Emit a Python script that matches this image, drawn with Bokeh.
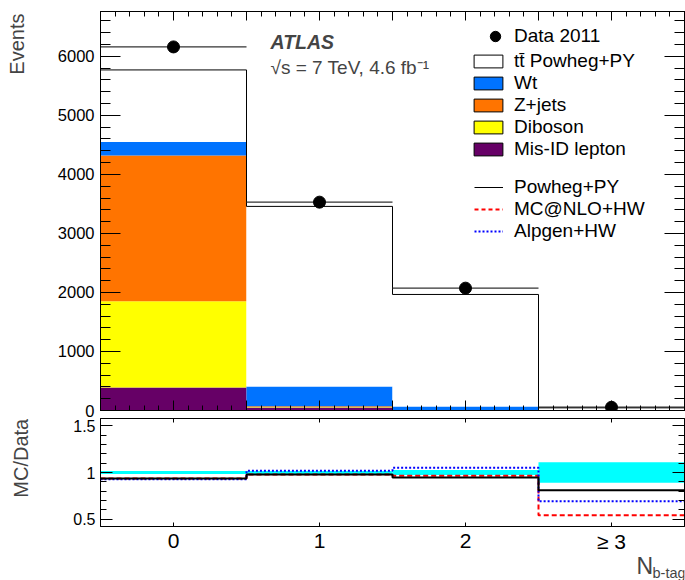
import numpy as np
from bokeh.plotting import figure
from bokeh.layouts import column, row
from bokeh.core.properties import value
from bokeh.models import (LinearAxis, SingleIntervalTicker, Label, Legend, LegendItem,
                          Range1d, CustomJSTickFormatter, CustomLabelingPolicy)
from bokeh.embed import file_html
from bokeh.resources import INLINE

# ---------------- data ----------------
bins = [0, 1, 2, 3]
bin_labels = ["0", "1", "2", "\u2265 3"]
data_2011 = [6160, 3530, 2073, 55]
ttbar_powheg = [1223, 3051, 1898, 42]
wt = [225, 334, 58, 2.5]
zjets = [2469, 15, 3, 0.3]
diboson = [1463, 8, 2, 0.1]
misid = [390, 50, 5, 0.1]
ratio_powheg = [0.935, 0.978, 0.946, 0.81]
ratio_mcatnlo = [0.935, 0.978, 0.964, 0.54]
ratio_alpgen = [0.928, 1.02, 1.05, 0.69]
data_unc = [0.017, 0.015, 0.026, 0.11]

FONT = "Liberation Sans"
C_WT = "#0073ff"
C_Z = "#ff7400"
C_DB = "#ffff00"
C_MIS = "#660066"
C_BAND = "#00ffff"

x = np.array(bins, dtype=float)
edges = np.append(x - 0.5, x[-1] + 0.5)

YMAX = 6760
RLO, RHI = 0.42, 1.58
LEFT = 50      # width of the left title strip
PW = 685 - LEFT


def make_axis(ticker, major_in, minor_in, labels=False, size="16px", standoff=5, formatter=None):
    ax = LinearAxis(ticker=ticker)
    ax.major_tick_in = int(major_in)
    ax.major_tick_out = 0
    ax.minor_tick_in = int(minor_in)
    ax.minor_tick_out = 0
    ax.axis_line_color = "black"
    ax.major_tick_line_color = "black"
    ax.minor_tick_line_color = "black" if minor_in else None
    ax.axis_label = None
    if labels:
        ax.major_label_text_font = FONT
        ax.major_label_text_font_size = size
        ax.major_label_text_color = "black"
        ax.major_label_standoff = standoff
        if formatter is not None:
            ax.formatter = formatter
    else:
        ax.major_label_text_font_size = "0px"
        ax.major_label_standoff = 0
        ax.major_label_policy = CustomLabelingPolicy(code="return []")
    return ax


def base_fig(width, height, xr, yr, **kw):
    f = figure(width=width, height=height, x_range=xr, y_range=yr, title=None,
               x_axis_type=None, y_axis_type=None, output_backend="svg", toolbar_location=None, **kw)
    f.background_fill_color = "white"
    f.border_fill_color = "white"
    return f


# ---------------- upper panel ----------------
p1 = base_fig(PW, 418, Range1d(-0.5, 3.5), Range1d(0, YMAX),
              min_border_left=50, min_border_right=1, min_border_top=11, min_border_bottom=8)
p1.outline_line_color = "black"

p1.add_layout(make_axis(SingleIntervalTicker(interval=1000, num_minor_ticks=5), 20, 10,
                        labels=True, size="16.5px", standoff=6), "left")
p1.add_layout(make_axis(SingleIntervalTicker(interval=1000, num_minor_ticks=5), 20, 10), "right")
p1.add_layout(make_axis(SingleIntervalTicker(interval=0.5, num_minor_ticks=5), 10, 5), "below")
p1.add_layout(make_axis(SingleIntervalTicker(interval=0.5, num_minor_ticks=5), 9, 5), "above")

stack = [(misid, C_MIS), (diboson, C_DB), (zjets, C_Z), (wt, C_WT), (ttbar_powheg, "white")]
bottom = np.zeros(len(bins))
for vals, col in stack:
    top = bottom + np.array(vals, dtype=float)
    p1.vbar(x=x, width=1.0, bottom=bottom, top=top, fill_color=col, line_color=None)
    bottom = top
total = bottom
p1.step(x=edges, y=np.append(total, total[-1]), mode="after", line_color="black", line_width=1)

p1.segment(x0=x - 0.5, x1=x + 0.5, y0=data_2011, y1=data_2011, line_color="#333333", line_width=1.3)
p1.scatter(x=x, y=data_2011, size=12, marker="circle", fill_color="black", line_color="black")

# legend-only renderers (a single NaN point, never drawn in the frame)
NA = [np.nan]
lg_data = p1.scatter(x=NA, y=NA, marker="circle", fill_color="black", line_color="black")
lg_boxes = []
for col in ["white", C_WT, C_Z, C_DB, C_MIS]:
    lg_boxes.append(p1.vbar(x=NA, top=NA, width=1, fill_color=col, line_color="black", line_width=1))
lg_pw = p1.line(x=NA, y=NA, line_color="black", line_width=1)
lg_mc = p1.line(x=NA, y=NA, line_color="red", line_width=2, line_dash="4 3")
lg_al = p1.line(x=NA, y=NA, line_color="blue", line_width=2, line_dash="2 2")


def style_legend(lg):
    lg.label_text_font = FONT
    lg.label_text_font_size = "19px"
    lg.label_text_color = "black"
    lg.padding = 0
    lg.margin = 0
    lg.spacing = 0
    lg.border_line_color = None
    lg.background_fill_alpha = 0
    lg.label_height = 20
    return lg


legA = style_legend(Legend(items=[LegendItem(label="Data 2011", renderers=[lg_data])],
                           location=(382, 361)))
legA.glyph_width = 26
legA.glyph_height = 26
legA.label_standoff = 6

box_names = ["tt\u0304 Powheg+PY", "Wt", "Z+jets", "Diboson", "Mis-ID lepton"]
legB = style_legend(Legend(items=[LegendItem(label=n, renderers=[r]) for n, r in zip(box_names, lg_boxes)],
                           location=(370, 250)))
legB.glyph_width = 36
legB.glyph_height = 16
legB.label_standoff = 8

legC = style_legend(Legend(items=[LegendItem(label="Powheg+PY", renderers=[lg_pw]),
                                  LegendItem(label="MC@NLO+HW", renderers=[lg_mc]),
                                  LegendItem(label="Alpgen+HW", renderers=[lg_al])],
                           location=(374, 168)))
legC.glyph_width = 29
legC.glyph_height = 16
legC.label_standoff = 11

for lg in (legA, legB, legC):
    p1.add_layout(lg)

p1.add_layout(Label(x=-0.5, y=YMAX, x_offset=170, y_offset=-30.7, text="ATLAS",
                    text_font=FONT, text_font_size="19.5px", text_font_style="bold italic",
                    text_baseline="middle", text_align="left"))
p1.add_layout(Label(x=-0.5, y=YMAX, x_offset=170, y_offset=-55.7, text="\u221as = 7 TeV, 4.6 fb\u207b\u00b9",
                    text_font=FONT, text_font_size="19px",
                    text_baseline="middle", text_align="left"))

# ---------------- lower (ratio) panel ----------------
p2 = base_fig(PW, 110, Range1d(-0.5, 3.5), Range1d(RLO, RHI),
              min_border_left=50, min_border_right=1, min_border_top=0, min_border_bottom=2)
p2.outline_line_color = "black"

yfmt = CustomJSTickFormatter(code="return String(Math.round(tick*10)/10);")
p2.add_layout(make_axis(SingleIntervalTicker(interval=0.5, num_minor_ticks=5), 12, 6,
                        labels=True, size="16px", standoff=5, formatter=yfmt), "left")
p2.add_layout(make_axis(SingleIntervalTicker(interval=0.5, num_minor_ticks=5), 12, 6), "right")
p2.add_layout(make_axis(SingleIntervalTicker(interval=1, num_minor_ticks=0), 4, 0), "below")
p2.add_layout(make_axis(SingleIntervalTicker(interval=1, num_minor_ticks=0), 4, 0), "above")

unc = np.array(data_unc)
p2.quad(left=edges[:-1], right=edges[1:], bottom=1 - unc, top=1 + unc, fill_color=C_BAND, line_color=None)
p2.step(x=edges, y=np.append(ratio_mcatnlo, ratio_mcatnlo[-1]), mode="after",
        line_color="red", line_width=2, line_dash="5 3")
p2.step(x=edges, y=np.append(ratio_alpgen, ratio_alpgen[-1]), mode="after",
        line_color="blue", line_width=2, line_dash="2 2")
p2.step(x=edges, y=np.append(ratio_powheg, ratio_powheg[-1]), mode="after",
        line_color="black", line_width=2)

# ---------------- bottom strip: x tick labels and x title ----------------
p3 = base_fig(PW, 52, Range1d(-0.5, 3.5), Range1d(52, 0),
              min_border_left=50, min_border_right=1, min_border_top=0, min_border_bottom=0)
p3.outline_line_color = None
p3.text(x=x, y=[12.5] * len(bins), text=bin_labels, text_font=value(FONT), text_font_size="21px",
        text_align="center", text_baseline="middle", text_color="black")
p3.add_layout(Label(x=3.5, y=37.5, x_offset=-48, text="N",
                    text_font=FONT, text_font_size="23px",
                    text_baseline="middle", text_align="left"))
p3.add_layout(Label(x=3.5, y=44, x_offset=-32, text="b-tag",
                    text_font=FONT, text_font_size="14.5px",
                    text_baseline="middle", text_align="left"))

# ---------------- left strip: y titles ----------------
pl = base_fig(LEFT, 580, Range1d(0, LEFT), Range1d(580, 0),
              min_border_left=0, min_border_right=0, min_border_top=0, min_border_bottom=0)
pl.outline_line_color = None
pl.add_layout(Label(x=16.7, y=13, text="Events", angle=np.pi / 2,
                    text_font=FONT, text_font_size="20px",
                    text_baseline="middle", text_align="right"))
pl.add_layout(Label(x=20.8, y=418.3, text="MC/Data", angle=np.pi / 2,
                    text_font=FONT, text_font_size="20px",
                    text_baseline="middle", text_align="right"))

layout = row(pl, column(p1, p2, p3, spacing=0), spacing=0)
open("out.html", "w").write(file_html(layout, INLINE))
